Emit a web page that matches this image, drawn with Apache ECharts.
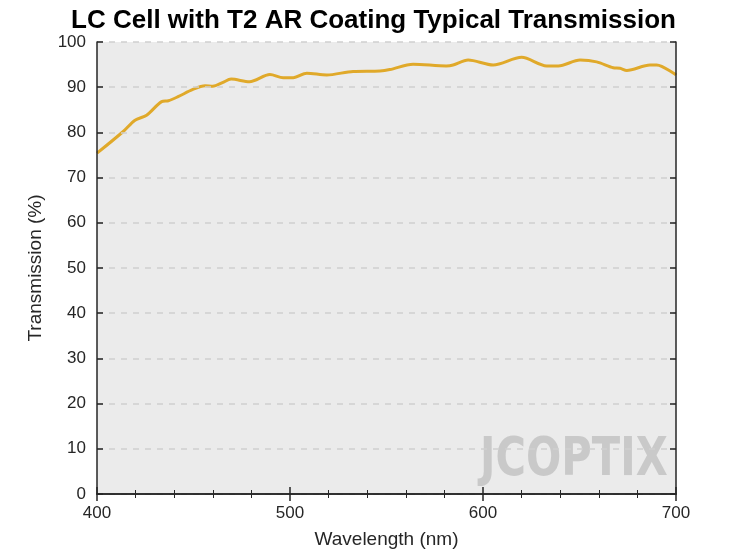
<!DOCTYPE html><html><head><meta charset="utf-8"><script src="https://cdn.jsdelivr.net/npm/echarts@6/dist/echarts.min.js"></script></head><body style="margin:0;background:#fff"><div id="c" style="width:747px;height:560px"></div><script>
const wavelengths=[400,413.6,419.7,425.7,433.5,437,442,449.7,456,460,465,469.5,479,489.6,496.5,501.7,508.7,519,532.7,546.6,551.7,563.8,581,584.5,592.3,605.3,620,633,639,650.3,658.9,667.5,671,674.5,686.5,690,699.5,700];
const transmission=[75.4,80.2,82.7,83.8,86.8,87,87.9,89.5,90.3,90.2,91,91.8,91.2,92.8,92.1,92.1,93.1,92.7,93.5,93.6,93.9,95.1,94.7,94.9,96,94.9,96.6,94.7,94.7,96,95.6,94.3,94.2,93.7,94.9,94.9,92.9,92.7];
const yTicks=[0,10,20,30,40,50,60,70,80,90,100];
const data=wavelengths.map((w,i)=>[w,transmission[i]]);
const font='Liberation Sans, Arial, sans-serif';
const ax={color:'#262626',fontSize:17,fontFamily:font};
const line={color:'#262626',width:1.5};
const chart=echarts.init(document.getElementById('c'));
chart.setOption({
 title:{text:'LC Cell with T2 AR Coating Typical Transmission',left:'center',top:3,textStyle:{fontSize:26,fontWeight:'bold',color:'#000',fontFamily:font}},
 grid:{left:97,right:71,top:42,bottom:66,show:true,backgroundColor:'#ebebeb',borderWidth:0},
 xAxis:[{type:'value',min:400,max:700,interval:100,name:'Wavelength (nm)',nameLocation:'middle',nameGap:36,nameTextStyle:{fontSize:19,color:'#262626',fontFamily:font},
  axisLine:{lineStyle:line},axisTick:{inside:true,length:7,lineStyle:line},minorTick:{show:true,splitNumber:5,length:4,lineStyle:{color:'#262626'}},axisLabel:Object.assign({margin:11},ax),splitLine:{show:false},z:10},
  {type:'value',position:'top',min:400,max:700,interval:100,axisLine:{lineStyle:line},axisTick:{inside:true,length:7,lineStyle:line},minorTick:{show:true,splitNumber:5,length:4,lineStyle:{color:'#262626'}},axisLabel:{show:false},splitLine:{show:false},z:10}],
 yAxis:[{type:'value',min:0,max:100,interval:10,name:'Transmission (%)',nameLocation:'middle',nameGap:52,nameTextStyle:{fontSize:19,color:'#262626',fontFamily:font},
  axisLine:{show:true,lineStyle:line},axisTick:{show:true,inside:true,length:6,lineStyle:line},axisLabel:Object.assign({margin:11,formatter:v=>yTicks.includes(v)?String(v):''},ax),
  splitLine:{show:true,lineStyle:{color:'#d0d0d0',type:[6,6],width:1.5}},z:10},
  {type:'value',position:'right',min:0,max:100,interval:10,axisLine:{show:true,lineStyle:line},axisTick:{show:true,inside:true,length:6,lineStyle:line},axisLabel:{show:false},splitLine:{show:false},z:10}],
 graphic:[{type:'text',x:480,y:434,scaleX:0.77,z:0,style:{text:'JCOPTIX',font:'bold 54px DejaVu Sans, sans-serif',fill:'rgba(195,195,195,0.85)'}}],
 series:[{type:'line',data:data,smooth:0.3,showSymbol:false,lineStyle:{color:'#e0a92a',width:3},itemStyle:{color:'#e0a92a'},z:5}]
});
</script></body></html>
